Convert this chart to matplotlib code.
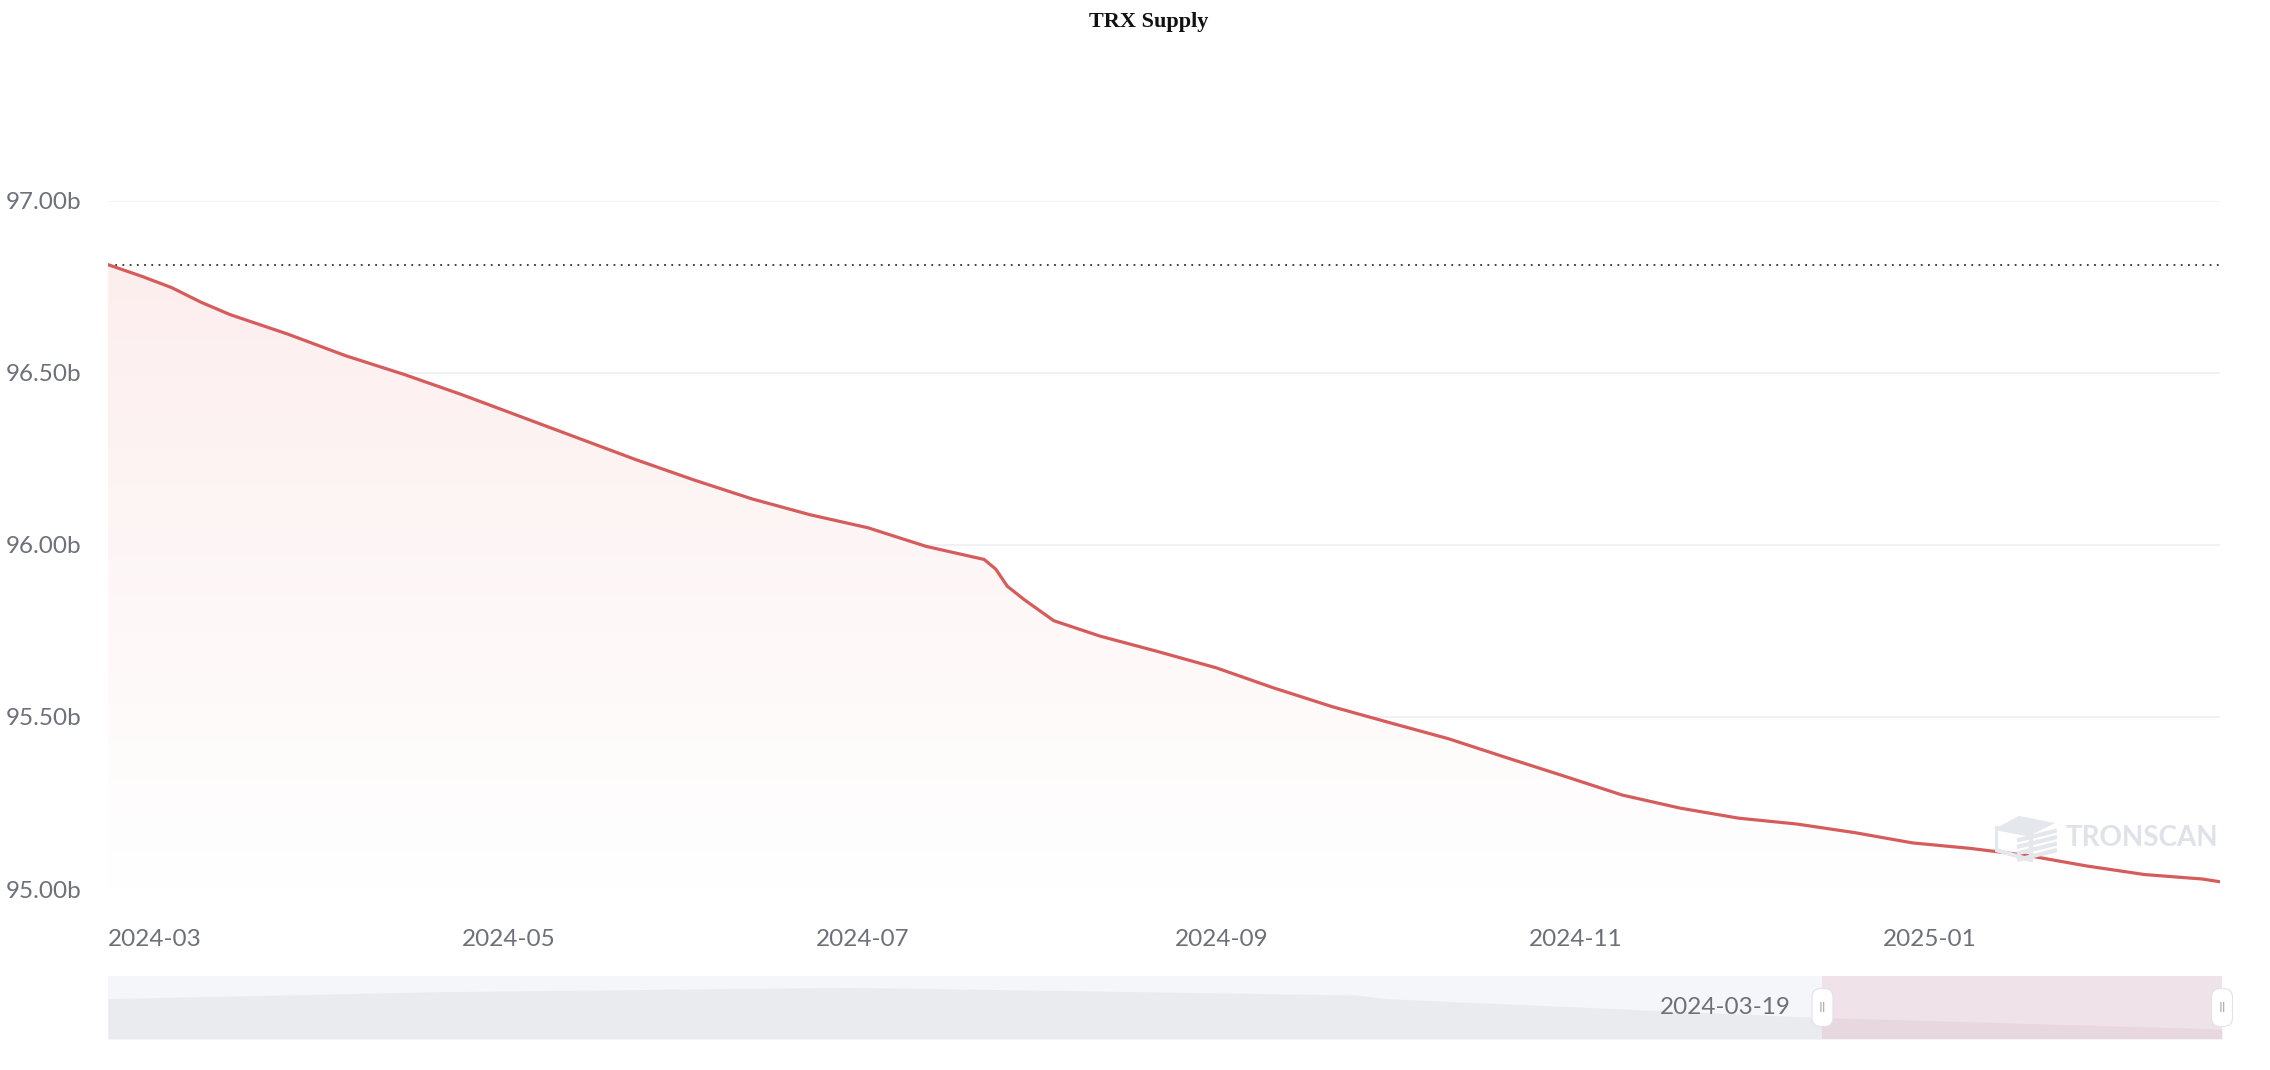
import matplotlib
matplotlib.use("Agg")
import matplotlib.pyplot as plt
import matplotlib.dates as mdates
import numpy as np
import pandas as pd
from matplotlib.patches import Polygon, FancyBboxPatch
from matplotlib.transforms import IdentityTransform
from matplotlib.colors import LinearSegmentedColormap

# ---------------- data ----------------
dates = ["2024-02-22", "2024-02-28", "2024-03-04", "2024-03-09", "2024-03-14",
         "2024-03-24", "2024-04-03", "2024-04-13", "2024-04-23", "2024-05-03",
         "2024-05-13", "2024-05-23", "2024-06-02", "2024-06-12", "2024-06-22",
         "2024-07-02", "2024-07-12", "2024-07-22", "2024-07-24", "2024-07-26",
         "2024-07-29", "2024-08-03", "2024-08-11", "2024-08-21", "2024-08-31",
         "2024-09-10", "2024-09-20", "2024-09-30", "2024-10-10", "2024-10-20",
         "2024-10-30", "2024-11-09", "2024-11-19", "2024-11-29", "2024-12-09",
         "2024-12-19", "2024-12-29", "2025-01-08", "2025-01-18", "2025-01-28",
         "2025-02-07", "2025-02-17", "2025-02-20"]
supply_b = [96.815, 96.780, 96.748, 96.706, 96.670,
            96.613, 96.550, 96.496, 96.437, 96.374,
            96.311, 96.248, 96.189, 96.134, 96.088,
            96.050, 95.996, 95.958, 95.930, 95.880,
            95.840, 95.780, 95.735, 95.690, 95.643,
            95.584, 95.530, 95.483, 95.437, 95.382,
            95.328, 95.273, 95.235, 95.206, 95.189,
            95.164, 95.134, 95.118, 95.097, 95.067,
            95.042, 95.029, 95.021]
max_line_b = 96.815
y_ticks = [95.0, 95.5, 96.0, 96.5, 97.0]
x_tick_months = ["2024-03-01", "2024-05-01", "2024-07-01", "2024-09-01",
                 "2024-11-01", "2025-01-01"]
title = "TRX Supply"

# slider (dataZoom) overview shadow, position fraction vs relative height
slider_pos = [0.0, 0.155, 0.35, 0.59, 0.605, 0.81, 1.0]
slider_val = [0.64, 0.75, 0.82, 0.70, 0.64, 0.34, 0.16]
slider_start, slider_end = 0.811, 1.0
slider_label = "2024-03-19"

# ---------------- figure ----------------
W, H = 2270, 1070
fig = plt.figure(figsize=(W / 100, H / 100), dpi=100)
fig.patch.set_facecolor("white")

def fx(px):
    return px / W

def fy(py):
    return 1 - py / H

left_px, right_px, top_px, bot_px = 108, 2220, 201, 889
ax = fig.add_axes([fx(left_px), fy(bot_px), fx(right_px - left_px), (bot_px - top_px) / H])
x = pd.to_datetime(dates)
xn = mdates.date2num(x)
ax.set_xlim(xn[0], xn[-1])
ax.set_ylim(95.0, 97.0)

for s in ax.spines.values():
    s.set_visible(False)

for yt in y_ticks:
    ax.axhline(yt, color="#eef0f3", lw=1.3, zorder=0)

# gradient fill under the line
line_color = "#d65c5c"
poly = ax.fill_between(xn, supply_b, 95.0, color="none", lw=0)
grad = np.linspace(1, 0, 256).reshape(-1, 1)
cmap = LinearSegmentedColormap.from_list("g", ["#ffffff", "#fdeeee"])
im = ax.imshow(grad, aspect="auto", cmap=cmap, vmin=0, vmax=1,
               extent=[xn[0], xn[-1], 95.0, max(supply_b)], origin="upper", zorder=1)
im.set_clip_path(poly.get_paths()[0], transform=ax.transData)

ax.plot(xn, supply_b, color=line_color, lw=2.3, zorder=3, solid_joinstyle="round")
ax.axhline(max_line_b, color="#333333", lw=1.3, ls=(0, (1, 3)), zorder=2)

ax.set_yticks(y_ticks)
ax.set_yticklabels([f"{v:.2f}b" for v in y_ticks])
ax.set_xticks(mdates.date2num(pd.to_datetime(x_tick_months)))
ax.xaxis.set_major_formatter(mdates.DateFormatter("%Y-%m"))
ax.tick_params(axis="both", length=0, labelsize=17.5, labelcolor="#6e7079")
ax.tick_params(axis="y", pad=19)
ax.tick_params(axis="x", pad=29)
for t in ax.get_xticklabels() + ax.get_yticklabels():
    t.set_fontfamily("Lato")

fig.text(fx(1149), fy(22), title, ha="center", va="center", fontsize=16,
         fontweight="bold", family="Liberation Serif", color="#111111")

# watermark
fig.text(fx(2066), fy(838), "TRONSCAN", ha="left", va="center", fontsize=20,
         fontweight="bold", family="Lato", color="#dfe2e8")
wm = fig.add_axes([fx(1995), fy(862), fx(62), 52 / H])
wm.set_xlim(0, 62)
wm.set_ylim(0, 52)
wm.axis("off")
wm.add_patch(Polygon([[1, 34], [24, 46], [60, 39], [36, 27]], closed=True, fc="#e4e7ec", ec="none"))
wm.add_patch(Polygon([[1, 34], [36, 27], [36, 2], [1, 12]], closed=True, fc="none", ec="#e4e7ec", lw=3))
for k in range(4):
    yy = 22 - k * 6.5
    wm.plot([24, 60], [yy, yy + 9], color="#e4e7ec", lw=3)

# slider
s_top, s_bot = 976, 1039
sax = fig.add_axes([fx(108), fy(s_bot), fx(2222 - 108), (s_bot - s_top) / H])
sax.set_xlim(0, 1)
sax.set_ylim(0, 1)
sax.axis("off")
sax.add_patch(plt.Rectangle((0, 0), 1, 1, fc="#f5f6fa", ec="none", zorder=0))
sax.fill_between(slider_pos, slider_val, 0, color="#eaebef", lw=0, zorder=1)
sax.add_patch(plt.Rectangle((slider_start, 0), slider_end - slider_start, 1,
                            fc="#d65c7a", alpha=0.13, ec="none", zorder=2))
s_left_px, s_w_px = 108, 2222 - 108
for hx in (slider_start, slider_end):
    cx = s_left_px + hx * s_w_px
    cy = H - (s_top + s_bot) / 2
    hw, hh = 21, 38
    fig.add_artist(FancyBboxPatch((cx - hw / 2, cy - hh / 2), hw, hh,
                                  boxstyle="round,pad=0,rounding_size=9",
                                  transform=IdentityTransform(), fc="white",
                                  ec="#e3e3e3", lw=0.8, zorder=10))
    fig.text(fx(cx), fy(s_top + (s_bot - s_top) / 2), "II", ha="center", va="center",
             fontsize=10, color="#b0b0b0", family="Lato", zorder=11)
sax.text(slider_start - 0.015, 0.5, slider_label, ha="right", va="center",
         fontsize=17.5, color="#6e7079", family="Lato", zorder=5)

fig.savefig("out.png", dpi=100)
